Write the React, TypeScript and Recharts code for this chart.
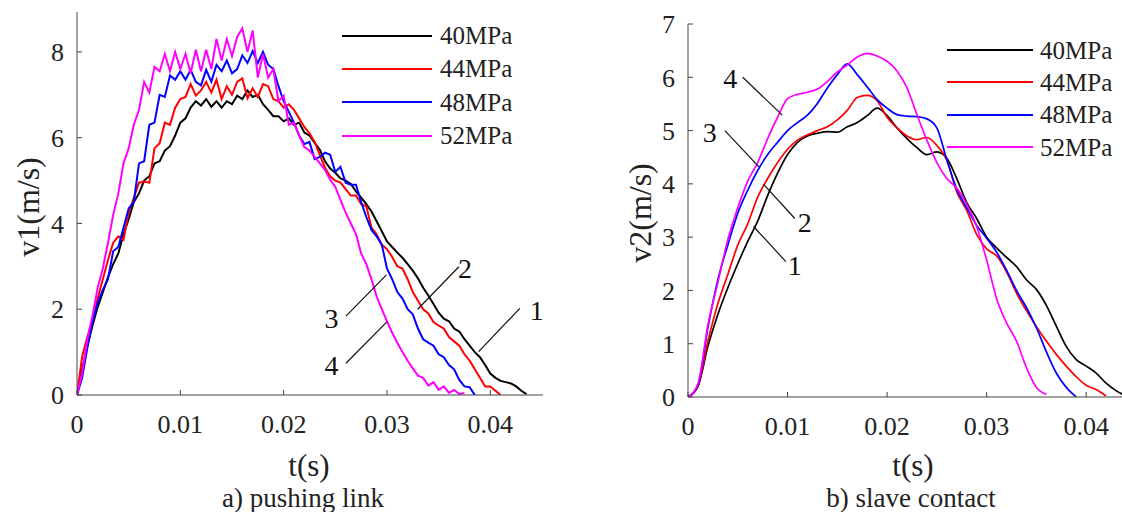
import React from 'react';
import { LineChart, Line, XAxis, YAxis, ReferenceLine, ReferenceDot, Legend } from 'recharts';

const FONT = '"Liberation Serif", "Times New Roman", serif';

const seriesNames = ['40MPa', '44MPa', '48MPa', '52MPa'];
const seriesColors = ['#000000', '#ff0000', '#0000ff', '#ff00ff'];
const xTicks = [0, 0.01, 0.02, 0.03, 0.04];
const leftYTicks = [0, 2, 4, 6, 8];
const rightYTicks = [0, 1, 2, 3, 4, 5, 6, 7];

// ---- a) pushing link : v1 (m/s) ----
const tLeft = [
  0, 0.0005, 0.001, 0.0015, 0.002, 0.0025, 0.003, 0.0035, 0.004, 0.0045,
  0.005, 0.0055, 0.006, 0.0065, 0.007, 0.0075, 0.008, 0.0085, 0.009, 0.0095,
  0.01, 0.0105, 0.011, 0.0115, 0.012, 0.0125, 0.013, 0.0135, 0.014, 0.0145,
  0.015, 0.0155, 0.016, 0.0165, 0.017, 0.0175, 0.018, 0.0185, 0.019, 0.0195,
  0.02, 0.0205, 0.021, 0.0215, 0.022, 0.0225, 0.023, 0.0235, 0.024, 0.0245,
  0.025, 0.0255, 0.026, 0.0265, 0.027, 0.0275, 0.028, 0.0285, 0.029, 0.0295,
  0.03, 0.0305, 0.031, 0.0315, 0.032, 0.0325, 0.033, 0.0335, 0.034, 0.0345,
  0.035, 0.0355, 0.036, 0.0365, 0.037, 0.0375, 0.038, 0.0385, 0.039, 0.0395,
  0.04, 0.0405, 0.041, 0.0415, 0.042, 0.0425, 0.043, 0.0435, 0.044,
];
const v1_40 = [
  0, 0.6, 1.15, 1.62, 2.05, 2.4, 2.75, 3.05, 3.3, 3.75,
  4.1, 4.5, 4.7, 5.0, 5.1, 5.4, 5.45, 5.7, 5.8, 6.05,
  6.35, 6.45, 6.7, 6.85, 6.75, 6.9, 6.72, 6.85, 6.7, 6.85,
  6.78, 6.98, 6.9, 7.1, 6.95, 7.0, 6.78, 6.65, 6.5, 6.5,
  6.38, 6.45, 6.3, 6.35, 6.12, 6.05, 5.88, 5.72, 5.45, 5.28,
  5.18, 5.05, 5.0, 4.92, 4.75, 4.6, 4.45, 4.28, 4.05, 3.82,
  3.58, 3.45, 3.32, 3.2, 3.05, 2.9, 2.72, 2.5, 2.32, 2.12,
  1.92, 1.78, 1.72, 1.55, 1.48, 1.3, 1.15, 1.0, 0.88, 0.7,
  0.5, 0.4, 0.33, 0.3, 0.27, 0.2, 0.1, 0.02, null,
];
const v1_44 = [
  0, 0.9, 1.35, 1.75, 2.25, 2.7, 3.15, 3.55, 3.7, 3.62,
  4.25, 4.6, 4.95, 4.98, 4.95, 5.75, 5.87, 6.35, 6.3, 6.7,
  6.9, 6.95, 7.25, 6.98, 7.1, 7.3, 7.05, 7.35, 6.9, 7.2,
  7.0, 7.3, 7.38, 6.92, 7.15, 6.95, 7.25, 7.2, 6.9, 6.85,
  6.7, 6.78, 6.65, 6.45, 6.25, 6.1, 5.9, 5.6, 5.3, 5.1,
  5.0, 4.95, 4.8, 4.65, 4.65, 4.45, 4.4, 3.9, 3.75, 3.5,
  3.4, 3.22, 3.0, 2.95, 2.7, 2.4, 2.2, 2.0, 1.9, 1.7,
  1.62, 1.55, 1.35, 1.25, 1.15, 0.95, 0.8, 0.6, 0.4, 0.2,
  0.2, 0.1, 0, null, null, null, null, null, null,
];
const v1_48 = [
  0, 0.4, 1.1, 1.7, 2.15, 2.45, 2.7, 3.35, 3.45, 3.9,
  4.35, 4.5, 5.4, 5.45, 6.3, 6.35, 7.0, 6.95, 7.45, 7.35,
  7.55, 7.35, 7.58, 7.3, 7.22, 7.58, 7.3, 7.7, 7.55, 7.8,
  7.5, 7.6, 7.92, 7.74, 8.02, 7.74, 8.0, 7.7, 7.6, 7.2,
  6.85, 6.6, 6.35, 6.05, 5.85, 5.9, 5.5, 5.55, 5.65, 5.6,
  5.2, 5.32, 4.95, 4.9, 4.9, 4.5, 4.15, 3.85, 3.7, 3.5,
  2.95, 2.7, 2.4, 2.25, 2.0, 1.88, 1.55, 1.3, 1.22, 1.15,
  0.95, 0.88, 0.7, 0.6, 0.35, 0.2, 0.18, 0, null, null,
  null, null, null, null, null, null, null, null, null,
];
const v1_52 = [
  0, 0.5, 1.3, 1.85, 2.5, 2.95, 3.55, 4.2, 4.7, 5.4,
  5.75, 6.3, 6.65, 7.3, 7.05, 7.65, 7.55, 7.95, 7.55, 8.0,
  7.6, 7.95, 7.5, 8.05, 7.55, 8.05, 7.6, 8.3, 7.8, 8.3,
  7.9, 8.35, 8.55, 8.0, 8.5, 7.4, 7.95, 7.4, 7.6, 6.85,
  6.98, 6.3, 6.35, 6.05, 5.78, 5.7, 5.55, 5.4, 5.25, 5.02,
  4.85, 4.55, 4.25, 4.0, 3.75, 3.3, 3.05, 2.7, 2.3, 2.0,
  1.72, 1.45, 1.22, 1.0, 0.8, 0.62, 0.45, 0.4, 0.22, 0.3,
  0.12, 0.2, 0.05, 0.12, 0.02, 0.05, null, null, null, null,
  null, null, null, null, null, null, null, null, null,
];

// ---- b) slave contact : v2 (m/s) ----
const tRight = [
  0, 0.001, 0.002, 0.003, 0.004, 0.005, 0.006, 0.007, 0.008, 0.009,
  0.01, 0.011, 0.012, 0.013, 0.014, 0.015, 0.016, 0.017, 0.018, 0.019,
  0.02, 0.021, 0.022, 0.023, 0.024, 0.025, 0.026, 0.027, 0.028, 0.029,
  0.03, 0.031, 0.032, 0.033, 0.034, 0.035, 0.036, 0.037, 0.038, 0.039,
  0.04, 0.041, 0.042, 0.043, 0.044,
];
const v2_40 = [
  0, 0.2, 0.95, 1.55, 2.05, 2.5, 2.92, 3.3, 3.78, 4.2,
  4.55, 4.78, 4.9, 4.95, 4.98, 4.97, 5.07, 5.15, 5.28, 5.42,
  5.28, 5.05, 4.85, 4.68, 4.55, 4.6, 4.48, 4.1, 3.65, 3.35,
  3.0, 2.8, 2.62, 2.45, 2.2, 2.02, 1.72, 1.33, 0.95, 0.7,
  0.58, 0.45, 0.26, 0.12, 0.02,
];
const v2_44 = [
  0, 0.2, 1.05, 1.75, 2.3, 2.85, 3.25, 3.75, 4.1, 4.4,
  4.65, 4.82, 4.92, 5.0, 5.07, 5.2, 5.38, 5.62, 5.66, 5.56,
  5.25, 5.05, 4.9, 4.83, 4.87, 4.72, 4.45, 3.85, 3.5, 3.05,
  2.78, 2.65, 2.35, 1.95, 1.62, 1.32, 1.05, 0.8, 0.58, 0.38,
  0.22, 0.14, 0.02, null, null,
];
const v2_48 = [
  0, 0.22, 1.3, 2.2, 2.85, 3.45, 3.88, 4.25, 4.55, 4.78,
  5.0, 5.15, 5.29, 5.51, 5.8, 6.05, 6.25, 6.05, 5.82, 5.58,
  5.42, 5.3, 5.27, 5.26, 5.22, 5.05, 4.45, 3.9, 3.55, 3.22,
  2.98, 2.72, 2.38, 2.0, 1.68, 1.3, 0.85, 0.45, 0.18, 0,
  null, null, null, null, null,
];
const v2_52 = [
  0, 0.25, 1.35, 2.15, 2.95, 3.55, 4.05, 4.4, 4.85, 5.25,
  5.6, 5.68, 5.72, 5.78, 5.92, 6.1, 6.23, 6.38, 6.45, 6.4,
  6.3, 6.12, 5.8, 5.3, 4.82, 4.4, 4.1, 3.92, 3.62, 3.2,
  2.57, 1.85, 1.39, 1.05, 0.55, 0.18, 0.05, null, null, null,
  null, null, null, null, null,
];

// ---- curve-number annotations (data coordinates) ----
const leftNoteLabels = [
  { n: '1', x: 0.0445, y: 1.98 },
  { n: '2', x: 0.03756, y: 2.96 },
  { n: '3', x: 0.02464, y: 1.79 },
  { n: '4', x: 0.02464, y: 0.7 },
];
const leftNoteLines = [
  { x1: 0.04286, y1: 2.02, x2: 0.03887, y2: 1.01 },
  { x1: 0.03696, y1: 2.99, x2: 0.03297, y2: 2.0 },
  { x1: 0.02603, y1: 1.84, x2: 0.02995, y2: 2.8 },
  { x1: 0.02603, y1: 0.74, x2: 0.03001, y2: 1.71 },
];
const rightNoteLabels = [
  { n: '4', x: 0.00425, y: 5.98 },
  { n: '3', x: 0.00219, y: 4.98 },
  { n: '2', x: 0.01174, y: 3.29 },
  { n: '1', x: 0.01073, y: 2.48 },
];
const rightNoteLines = [
  { x1: 0.0055, y1: 6.0, x2: 0.00947, y2: 5.29 },
  { x1: 0.0037, y1: 5.0, x2: 0.00713, y2: 4.32 },
  { x1: 0.01073, y1: 3.35, x2: 0.0076, y2: 3.99 },
  { x1: 0.00983, y1: 2.54, x2: 0.00658, y2: 3.2 },
];

const leftRows = tLeft.map((t, i) => ({ t, s0: v1_40[i], s1: v1_44[i], s2: v1_48[i], s3: v1_52[i] }));
const rightRows = tRight.map((t, i) => ({ t, s0: v2_40[i], s1: v2_44[i], s2: v2_48[i], s3: v2_52[i] }));

const fmtX = (v: number) => (v === 0 ? '0' : String(v));
const tickStyle = { fill: '#222', fontSize: 26, fontFamily: FONT, style: { fontFamily: FONT } };

const makeLegend = (rowH: number, lineW: number, gap: number) => () => (
  <div style={{ fontFamily: FONT }}>
    {seriesNames.map((n, i) => (
      <div key={n} style={{ display: 'flex', alignItems: 'center', height: rowH, whiteSpace: 'nowrap' }}>
        <div style={{ width: lineW, height: 0, borderTop: `2.5px solid ${seriesColors[i]}` }} />
        <span style={{ marginLeft: gap, fontSize: 25, color: '#222', lineHeight: 1 }}>{n}</span>
      </div>
    ))}
  </div>
);

const abs = (left: number, top: number, size: number, rotate = false): React.CSSProperties => ({
  position: 'absolute',
  left,
  top,
  transform: `translate(-50%, -50%)${rotate ? ' rotate(-90deg)' : ''}`,
  fontFamily: FONT,
  fontSize: size,
  color: '#222',
  whiteSpace: 'nowrap',
  lineHeight: 1,
});

function Panel(props: {
  rows: any[];
  width: number;
  margin: { top: number; right: number; bottom: number; left: number };
  xMax: number;
  yMax: number;
  yTicks: number[];
  strokeW: number;
  curve: 'linear' | 'monotone';
  labels: { n: string; x: number; y: number }[];
  lines: { x1: number; y1: number; x2: number; y2: number }[];
  legendPos: { left: number; top: number };
  legendRow: number;
  legendLine: number;
  legendGap: number;
}) {
  return (
    <LineChart width={props.width} height={512} data={props.rows} margin={props.margin} style={{ fontFamily: FONT }}>
      <XAxis
        dataKey="t"
        type="number"
        domain={[0, props.xMax]}
        allowDataOverflow
        ticks={xTicks}
        tickFormatter={fmtX}
        tickSize={-5}
        tickMargin={25}
        height={40}
        stroke="#444"
        tick={tickStyle}
        interval={0}
      />
      <YAxis
        type="number"
        domain={[0, props.yMax]}
        allowDataOverflow
        ticks={props.yTicks}
        tickSize={-5}
        tickMargin={18}
        width={50}
        stroke="#444"
        tick={tickStyle}
        interval={0}
      />
      <Legend
        layout="vertical"
        align="center"
        verticalAlign="middle"
        content={makeLegend(props.legendRow, props.legendLine, props.legendGap)}
        wrapperStyle={{ left: props.legendPos.left, top: props.legendPos.top, width: 200, height: 140 }}
      />
      {seriesNames.map((n, i) => (
        <Line
          key={n}
          name={n}
          dataKey={`s${i}`}
          type={props.curve}
          stroke={seriesColors[i]}
          strokeWidth={props.strokeW}
          dot={false}
          activeDot={false}
          isAnimationActive={false}
        />
      ))}
      {props.lines.map((s, i) => (
        <ReferenceLine
          key={`l${i}`}
          segment={[{ x: s.x1, y: s.y1 }, { x: s.x2, y: s.y2 }]}
          stroke="#111"
          strokeWidth={1.2}
          ifOverflow="visible"
        />
      ))}
      {props.labels.map((l) => (
        <ReferenceDot
          key={`d${l.n}`}
          x={l.x}
          y={l.y}
          r={1}
          fill="none"
          stroke="none"
          ifOverflow="visible"
          label={{ value: l.n, position: 'center', fontSize: 28, fontFamily: FONT, fill: '#111' }}
        />
      ))}
    </LineChart>
  );
}

export default function App() {
  return (
    <div style={{ position: 'absolute', left: 0, top: 0, width: 1122, height: 512, background: '#fff', overflow: 'hidden', fontFamily: FONT }}>
      <div style={{ position: 'absolute', left: 0, top: 0 }}>
        <Panel
          rows={leftRows}
          width={560}
          margin={{ top: 12, right: 17, bottom: 77, left: 27 }}
          xMax={0.0451}
          yMax={8.93}
          yTicks={leftYTicks}
          strokeW={2}
          curve="linear"
          labels={leftNoteLabels}
          lines={leftNoteLines}
          legendPos={{ left: 342, top: 19 }}
          legendRow={33.3}
          legendLine={90}
          legendGap={8}
        />
      </div>
      <div style={{ position: 'absolute', left: 560, top: 0 }}>
        <Panel
          rows={rightRows}
          width={562}
          margin={{ top: 24, right: 0, bottom: 75, left: 78 }}
          xMax={0.0436}
          yMax={7}
          yTicks={rightYTicks}
          strokeW={1.7}
          curve="monotone"
          labels={rightNoteLabels}
          lines={rightNoteLines}
          legendPos={{ left: 387, top: 34 }}
          legendRow={32.3}
          legendLine={86}
          legendGap={7}
        />
      </div>
      <div style={abs(28, 207, 32, true)}>v1(m/s)</div>
      <div style={abs(640, 213, 32, true)}>v2(m/s)</div>
      <div style={abs(309, 465, 31)}>t(s)</div>
      <div style={abs(913, 465, 31)}>t(s)</div>
      <div style={abs(303, 498, 27)}>a) pushing link</div>
      <div style={abs(911, 498, 27)}>b) slave contact</div>
    </div>
  );
}
